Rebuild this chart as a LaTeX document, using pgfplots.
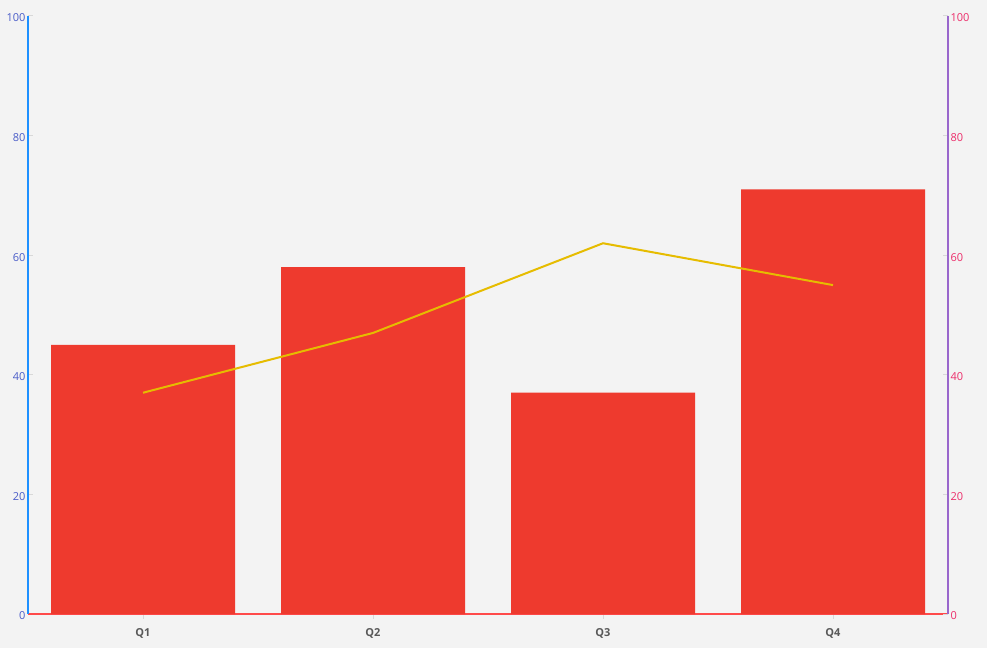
\documentclass[border=0pt]{standalone}
\usepackage{fontspec}
\setmainfont{Open Sans}
\usepackage{pgfplots}
\pgfplotsset{compat=1.18}
\definecolor{bgc}{HTML}{F3F3F3}
\definecolor{barc}{HTML}{EE3A2E}
\definecolor{linec}{HTML}{E6BC00}
\definecolor{leftax}{HTML}{1E90FF}
\definecolor{leftlab}{HTML}{4A5CC8}
\definecolor{rightax}{HTML}{9966CC}
\definecolor{rightlab}{HTML}{EC2D6A}
\definecolor{botax}{HTML}{FF4A4A}
\definecolor{tickc}{HTML}{D8D8D8}
\begin{document}
\begin{tikzpicture}
\fill[bgc] (-28pt,-34pt) rectangle (959pt,614pt);
\pgfplotsset{
  every axis/.append style={
    scale only axis, width=920pt, height=598pt,
    xmin=-0.5, xmax=3.5, ymin=0, ymax=100,
    ytick={0,20,...,100},
    tick style={tickc, line width=1pt},
    major tick length=5pt,
    /pgf/number format/assume math mode=true,
  }
}
\begin{axis}[
  axis x line*=bottom, axis y line*=left,
  x axis line style={botax, line width=1.5pt},
  y axis line style={leftax, line width=2pt},
  xtick={0,1,2,3}, xticklabels={Q1,Q2,Q3,Q4},
  xticklabel style={font=\fontsize{11pt}{13pt}\selectfont\bfseries, text=black!65, yshift=-6pt},
  yticklabel style={font=\fontsize{11pt}{13pt}\selectfont, text=leftlab, xshift=1pt, yshift=-2pt},
  ybar, bar width=184pt,
]
\addplot[fill=barc, draw=none] coordinates {(0,45) (1,58) (2,37) (3,71)};
\end{axis}
\begin{axis}[
  axis x line=none, axis y line*=right,
  y axis line style={rightax, line width=2pt},
  yticklabel style={font=\fontsize{11pt}{13pt}\selectfont, text=rightlab, xshift=-1pt, yshift=-2pt},
]
\addplot[linec, line width=2pt] coordinates {(0,37) (1,47) (2,62) (3,55)};
\end{axis}
\end{tikzpicture}
\end{document}
